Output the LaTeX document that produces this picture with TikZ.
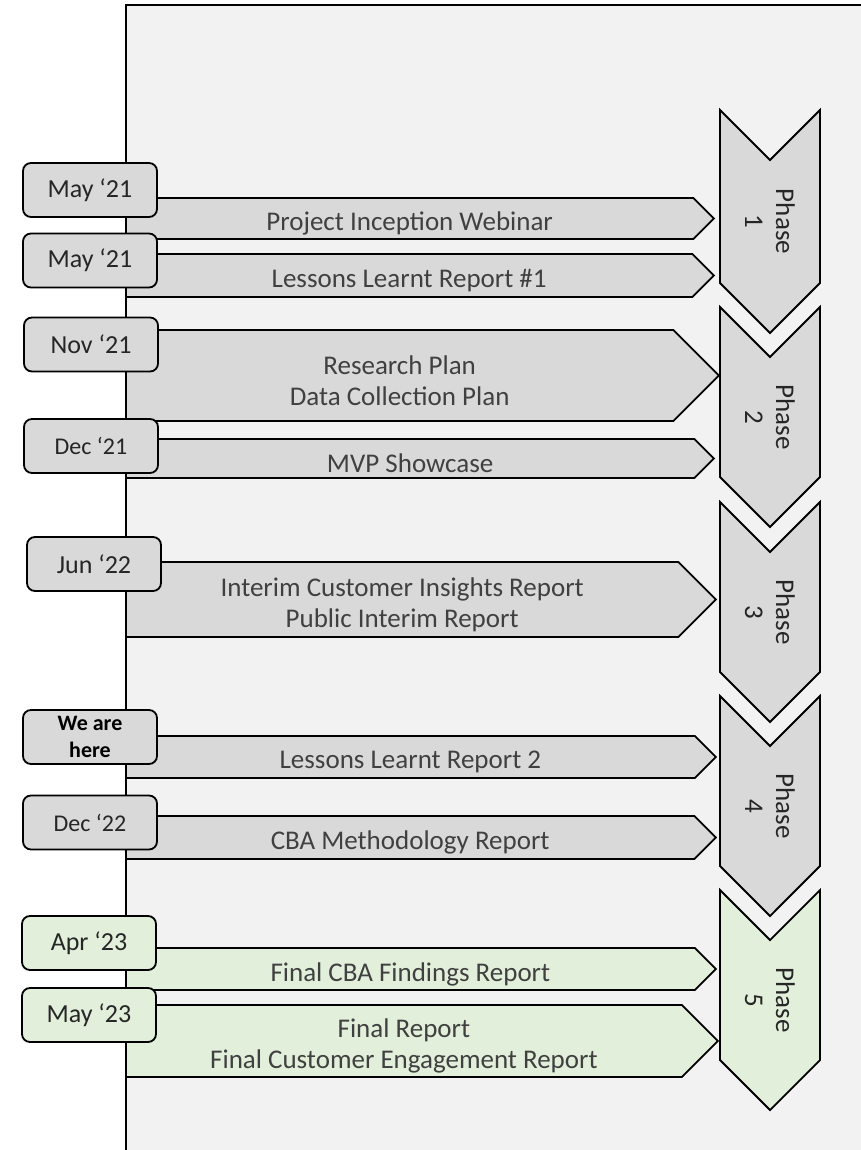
\documentclass[tikz,border=0pt]{standalone}
\usepackage{fontspec}
\setmainfont{Carlito}
\usetikzlibrary{shapes, shapes.symbols, positioning}
\definecolor{panelgray}{HTML}{F2F2F2}
\definecolor{boxgray}{HTML}{D9D9D9}
\definecolor{boxgreen}{HTML}{E2EFDA}
\definecolor{txtgray}{HTML}{404040}

\begin{document}
\begin{tikzpicture}[x=1pt, y=-1pt,
					every node/.style={line width=1.8pt, text=txtgray, inner sep=0pt,
						font=\fontsize{27}{31}\selectfont},
					datebox/.style={draw, rectangle, rounded corners=8pt, minimum width=134pt, minimum height=54pt,
						align=center, text=black!85},
					task/.style={draw, signal, signal to=east, signal pointer angle=90, anchor=west},
					tasktext/.style={align=center},
					phasebox/.style={draw, signal, signal from=west, signal to=east, signal pointer angle=90,
						rotate=-90, minimum height=100pt, align=center, text=black!85}]
				\useasboundingbox (0,0) rectangle (861,1150);
				% panel
				\fill[panelgray] (126,5) rectangle (861,1150);
				\draw[line width=1.8pt] (126,1150) -- (126,5) -- (861,5);
				% deliverables
				\foreach \n/\yc/\h/\xt/\fc/\txt in {
						1/218.5/41/713/boxgray/{Project Inception Webinar},
						2/275.5/43/713/boxgray/{Lessons Learnt Report \#1},
						3/375.5/91/718/boxgray/{Research Plan\\Data Collection Plan},
						4/458.5/39/713/boxgray/{MVP Showcase},
						5/599.5/75/715/boxgray/{Interim Customer Insights Report\\Public Interim Report},
						6/757/42/715/boxgray/{Lessons Learnt Report 2},
						7/837.5/43/715/boxgray/{CBA Methodology Report},
						8/969/42/715/boxgreen/{Final CBA Findings Report},
						9/1041/72/717/boxgreen/{Final Report\\Final Customer Engagement Report}}
				{
					\node[task, fill=\fc, minimum height=\h pt, minimum width=\xt pt-125pt] (t\n) at (125,\yc) {};
					\node[tasktext] (l\n) at ([yshift=-5pt]t\n.center) {\txt};
				}
				% dates
				\foreach \n/\xc/\yc/\fc/\fs/\txt in {
						1/90/190/boxgray/26/{May ‘21},
						2/90/260.5/boxgray/26/{May ‘21},
						3/91/344.5/boxgray/26/{Nov ‘21},
						4/91/446/boxgray/24/{Dec ‘21},
						5/94/564/boxgray/26/{Jun ‘22},
						7/90/822.5/boxgray/24/{Dec ‘22},
						8/89/943/boxgreen/26/{Apr ‘23},
						9/89/1015/boxgreen/26/{May ‘23}}
					\node[datebox, fill=\fc, font=\fontsize{\fs}{30}\selectfont] (d\n) at (\xc,\yc) {\txt};
				\node[datebox, fill=boxgray, text=black, font=\fontsize{22}{27}\selectfont\bfseries] (d6) at (90,737) {We are\\here};
				% phases
				\foreach \n/\yc/\len/\fc in {1/221.5/223/boxgray, 2/417/220/boxgray, 3/612/220/boxgray,
						4/806/220/boxgray, 5/1000/220/boxgreen}
					\node[phasebox, fill=\fc, minimum width=\len pt] (p\n) at (770,\yc) {Phase\\\n};
			\end{tikzpicture}
\end{document}
